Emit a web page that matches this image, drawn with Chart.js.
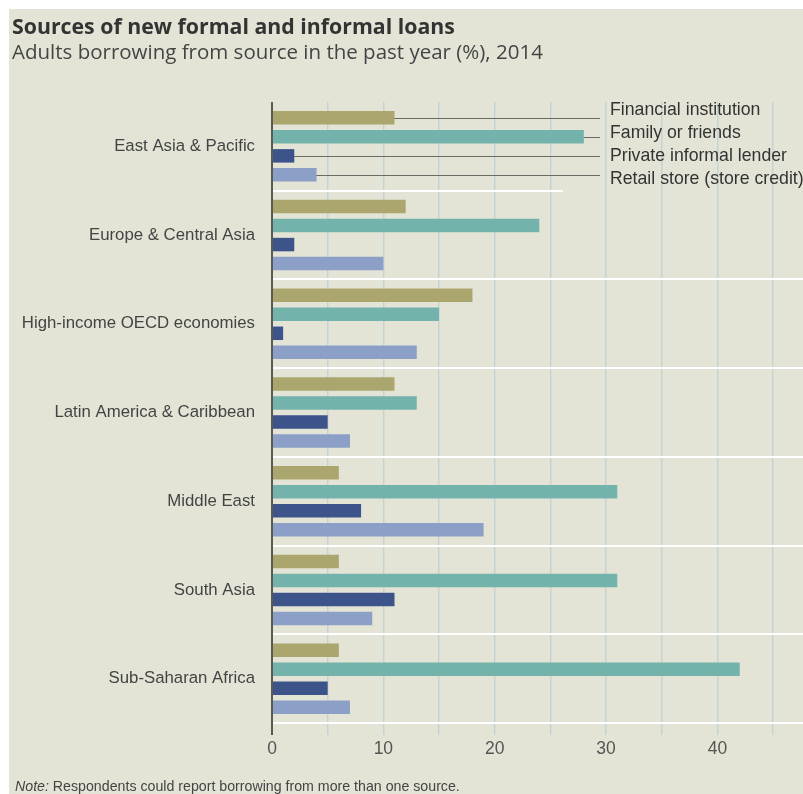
<!DOCTYPE html>
<html>
<head>
<meta charset="utf-8">
<script src="https://cdn.jsdelivr.net/npm/chart.js@4.4.1/dist/chart.umd.min.js"></script>
<style>
  html, body { margin:0; padding:0; width:803px; height:794px; overflow:hidden; background:#ffffff; }
  #panel { position:absolute; left:9px; top:9px; width:794px; height:785px; background:#e4e4d6; }
  #c { position:absolute; left:0; top:0; }
  .t { position:absolute; white-space:nowrap; line-height:1.2; }
  #title { left:12px; top:13px; font-family:"Open Sans", Lato, sans-serif; font-weight:700; font-size:21.3px; color:#333333; }
  #subtitle { left:12px; top:38.6px; font-family:"Open Sans", Lato, sans-serif; font-weight:400; font-size:20.5px; color:#444444; }
  #note { left:15px; top:778px; font-family:"Liberation Sans", Arial, sans-serif; font-size:14.2px; color:#444444; }
</style>
</head>
<body>
<div id="panel"></div>
<canvas id="c" width="803" height="794"></canvas>
<div class="t" id="title">Sources of new formal and informal loans</div>
<div class="t" id="subtitle">Adults borrowing from source in the past year (%), 2014</div>
<div class="t" id="note"><i>Note:</i> Respondents could report borrowing from more than one source.</div>
<script>
// ---- data ----
const categories = ["East Asia & Pacific", "Europe & Central Asia", "High-income OECD economies", "Latin America & Caribbean", "Middle East", "South Asia", "Sub-Saharan Africa"];
const seriesNames = ["Financial institution", "Family or friends", "Private informal lender", "Retail store (store credit)"];
const financialInstitution = [11, 12, 18, 11, 6, 6, 6];
const familyOrFriends = [28, 24, 15, 13, 31, 31, 42];
const privateLender = [2, 2, 1, 5, 8, 11, 5];
const retailStore = [4, 10, 13, 7, 19, 9, 7];
const xTickLabels = [0, 10, 20, 30, 40];

// ---- styles ----
const seriesColors = ["#aba66e", "#74b3ab", "#3d548b", "#8ca0c7"];
const sans = '"Liberation Sans", Arial, sans-serif';

const overlay = {
  id: 'overlay',
  beforeDatasetsDraw(chart) {
    const ctx = chart.ctx, area = chart.chartArea, ys = chart.scales.y;
    const step = ys.getPixelForValue(1) - ys.getPixelForValue(0);
    ctx.save();
    // white separators between groups
    ctx.strokeStyle = '#ffffff';
    ctx.lineWidth = 2;
    for (let i = 0; i < categories.length; i++) {
      const y = Math.round(ys.getPixelForValue(i) + step / 2);
      const xEnd = i === 0 ? 563 : 803;
      ctx.beginPath();
      ctx.moveTo(area.left + 1, y);
      ctx.lineTo(xEnd, y);
      ctx.stroke();
    }
    // leader lines for the legend (from first group's bars)
    ctx.strokeStyle = '#6b6b66';
    ctx.lineWidth = 1;
    chart.data.datasets.forEach((ds, d) => {
      const bar = chart.getDatasetMeta(d).data[0];
      const y = Math.round(bar.y) + 0.5;
      ctx.beginPath();
      ctx.moveTo(area.left, y);
      ctx.lineTo(600, y);
      ctx.stroke();
    });
    ctx.restore();
  },
  afterDraw(chart) {
    const ctx = chart.ctx, area = chart.chartArea;
    ctx.save();
    ctx.font = '17.7px ' + sans;
    ctx.fillStyle = '#333333';
    ctx.textBaseline = 'middle';
    ctx.textAlign = 'left';
    chart.data.datasets.forEach((ds, d) => {
      ctx.fillText(ds.label, 610, area.top + 8 + d * 23);
    });
    ctx.restore();
  }
};

const datasets = [financialInstitution, familyOrFriends, privateLender, retailStore].map((vals, i) => ({
  label: seriesNames[i],
  data: vals,
  backgroundColor: seriesColors[i],
  borderWidth: 0,
  categoryPercentage: 0.857,
  barPercentage: 0.71
}));

new Chart(document.getElementById('c'), {
  type: 'bar',
  data: { labels: categories, datasets },
  options: {
    indexAxis: 'y',
    responsive: false,
    animation: false,
    devicePixelRatio: 1,
    layout: { padding: { top: 102, right: 2, bottom: 0, left: 0 } },
    plugins: { legend: { display: false }, tooltip: { enabled: false }, title: { display: false } },
    scales: {
      x: {
        type: 'linear',
        position: 'bottom',
        min: 0,
        max: 47.5,
        border: { display: false },
        grid: {
          color: c => (c.tick && c.tick.value === 0) ? '#5a5a55' : '#c5d3d3',
          tickColor: c => (c.tick && c.tick.value === 0) ? '#5a5a55' : '#c5d3d3',
          lineWidth: c => (c.tick && c.tick.value === 0) ? 2 : 1.5,
          tickLength: 12,
          drawTicks: true
        },
        ticks: {
          stepSize: 5,
          includeBounds: false,
          autoSkip: false,
          maxRotation: 0,
          padding: 4,
          color: '#555555',
          font: { family: sans, size: 17.5 },
          callback: v => xTickLabels.includes(v) ? String(v) : ''
        },
        afterFit: s => { s.height = 71; }
      },
      y: {
        type: 'category',
        border: { display: false },
        grid: { display: false, drawTicks: false },
        ticks: {
          padding: 17,
          color: '#444444',
          font: { family: sans, size: 16.8 }
        },
        afterFit: s => { s.width = 272; }
      }
    }
  },
  plugins: [overlay]
});
</script>
</body>
</html>
